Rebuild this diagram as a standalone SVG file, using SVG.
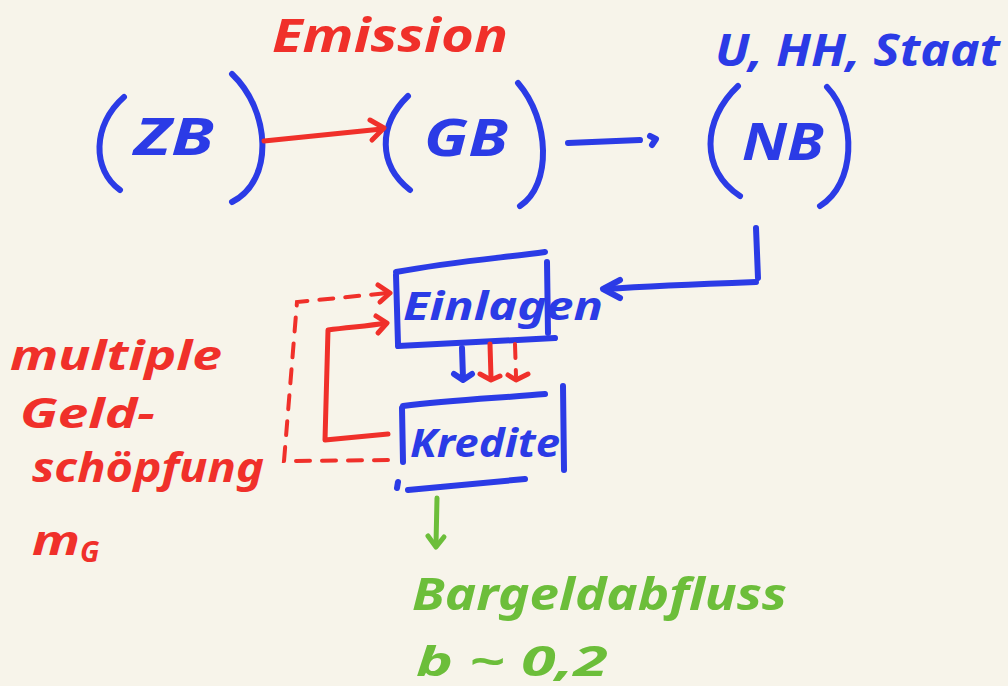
<svg xmlns="http://www.w3.org/2000/svg" width="1008" height="686" viewBox="0 0 1008 686">
<defs>
<style>
.bg{fill:#F7F4EA}
.b{stroke:#2B3BE6;fill:none;stroke-width:6;stroke-linecap:round;stroke-linejoin:round}
.r{stroke:#F0302A;fill:none;stroke-width:5;stroke-linecap:round;stroke-linejoin:round}
.rd{stroke:#F0302A;fill:none;stroke-width:4;stroke-linecap:round;stroke-dasharray:14 12}
.g{stroke:#6CBE3A;fill:none;stroke-width:5;stroke-linecap:round;stroke-linejoin:round}
text{font-family:"Noto Sans","Liberation Sans",sans-serif;font-style:italic;font-weight:bold}
.tb{fill:#2B3BE6}
.tr{fill:#F0302A}
.tg{fill:#6CBE3A}
</style>
</defs>
<rect class="bg" x="0" y="0" width="1008" height="686"/>

<g id="label-emission"><text class="tr" x="272" y="52" font-size="46" textLength="236" lengthAdjust="spacingAndGlyphs">Emission</text></g>
<g id="label-uhhstaat"><text class="tb" x="715" y="66" font-size="44" textLength="285" lengthAdjust="spacingAndGlyphs">U, HH, Staat</text></g>

<g id="node-zb">
<path class="b" d="M124,97 C92,125 92,170 120,190"/>
<path class="b" d="M232,74 C270,110 275,180 232,202"/>
<text class="tb" x="134" y="155" font-size="52" textLength="80" lengthAdjust="spacingAndGlyphs">ZB</text>
</g>
<g id="node-gb">
<path class="b" d="M408,96 C378,125 378,165 410,190"/>
<path class="b" d="M518,83 C550,120 552,185 520,206"/>
<text class="tb" x="424" y="156" font-size="52" textLength="84" lengthAdjust="spacingAndGlyphs">GB</text>
</g>
<g id="node-nb">
<path class="b" d="M738,86 C702,120 700,170 740,196"/>
<path class="b" d="M827,87 C858,120 855,185 820,206"/>
<text class="tb" x="742" y="160" font-size="52" textLength="82" lengthAdjust="spacingAndGlyphs">NB</text>
</g>

<g id="node-einlagen">
<path class="b" d="M396,272 C450,262 500,258 545,252"/>
<path class="b" d="M396,275 L398,344"/>
<path class="b" d="M398,346 L555,338"/>
<path class="b" d="M547,262 L548,333"/>
<text class="tb" x="403" y="320" font-size="40" textLength="200" lengthAdjust="spacingAndGlyphs">Einlagen</text>
</g>
<g id="node-kredite">
<path class="b" d="M403,406 C450,400 500,398 545,394"/>
<path class="b" d="M402,408 L403,462"/>
<path class="b" d="M563,386 L564,470"/>
<path class="b" d="M398,482 L397,488"/>
<path class="b" d="M408,490 C450,486 490,482 525,479"/>
<text class="tb" x="410" y="457" font-size="40" textLength="150" lengthAdjust="spacingAndGlyphs">Kredite</text>
</g>

<g id="label-multiple">
<text class="tr" x="10" y="370" font-size="42" textLength="212" lengthAdjust="spacingAndGlyphs">multiple</text>
<text class="tr" x="20" y="428" font-size="42" textLength="135" lengthAdjust="spacingAndGlyphs">Geld-</text>
<text class="tr" x="32" y="482" font-size="42" textLength="232" lengthAdjust="spacingAndGlyphs">schöpfung</text>
<text class="tr" x="32" y="555" font-size="42" textLength="48" lengthAdjust="spacingAndGlyphs">m</text>
<text class="tr" x="80" y="562" font-size="28">G</text>
</g>
<g id="label-bargeld">
<text class="tg" x="412" y="610" font-size="44" textLength="375" lengthAdjust="spacingAndGlyphs">Bargeldabfluss</text>
<text class="tg" x="416" y="676" font-size="42" textLength="192" lengthAdjust="spacingAndGlyphs">b ~ 0,2</text>
</g>

<g id="connectors">
<path class="r" d="M264,141 L382,129"/>
<path class="r" d="M370,120 L384,128 L372,140"/>
<path class="b" d="M568,143 L640,140"/>
<path class="b" d="M650,136 L656,139 L652,145"/>
<path class="b" d="M756,228 L758,278"/>
<path class="b" d="M756,282 C700,284 650,286 605,289"/>
<path class="b" d="M620,280 L603,289 L620,298"/>
<path class="b" d="M462,348 L463,378"/>
<path class="b" d="M454,374 L463,380 L472,374"/>
<path class="r" d="M490,344 L491,378"/>
<path class="r" d="M480,374 L491,380 L500,376"/>
<path class="rd" d="M515,344 L516,376" stroke-dasharray="7 6"/>
<path class="r" d="M508,375 L516,380 L528,374"/>
<path class="r" d="M388,434 L325,440 L328,330 C350,327 370,326 385,323"/>
<path class="r" d="M376,316 L387,323 L378,333"/>
<path class="rd" d="M388,460 L284,461 L297,302 L388,293"/>
<path class="r" d="M378,285 L390,293 L380,302"/>
<path class="g" d="M437,498 L436,545"/>
<path class="g" d="M428,536 L436,547 L444,537"/>
</g>
</svg>
